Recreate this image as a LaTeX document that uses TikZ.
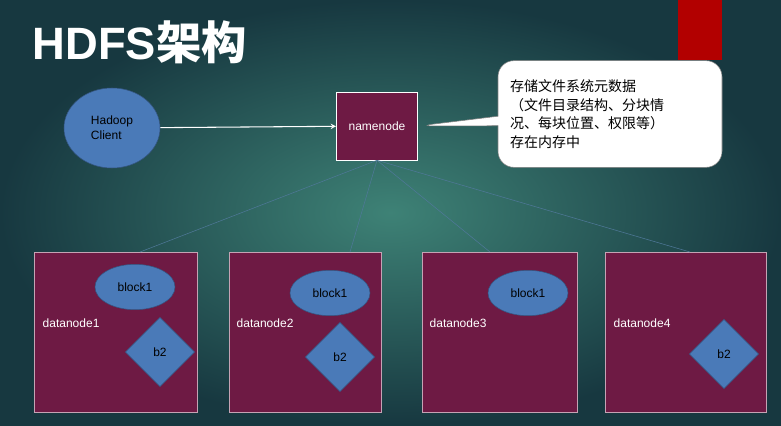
\documentclass[tikz,border=0pt]{standalone}
\usepackage{fontspec}
\setmainfont{Liberation Sans}
\newfontfamily\cjk{Noto Sans CJK SC}
\usetikzlibrary{shapes.geometric,shapes.callouts}
\definecolor{dnfill}{HTML}{6E1A44}
\definecolor{blue1}{HTML}{4A7AB8}
\definecolor{bgin}{HTML}{3E8276}
\definecolor{bgout}{HTML}{173840}
\definecolor{linkc}{HTML}{4F7898}
\tikzset{
  dnbox/.style={draw=white!60!dnfill,fill=dnfill,minimum width=#1,minimum height=120pt,inner sep=0},
  blk/.style={ellipse,draw=blue1!70!black,fill=blue1,minimum width=60pt,minimum height=34pt,font=\small},
  bt/.style={diamond,draw=blue1!70!black,fill=blue1,minimum width=52pt,minimum height=52pt,inner sep=0,font=\small},
  lbl/.style={text=white,font=\small,anchor=west}
}
\begin{document}
\begin{tikzpicture}[x=0.75pt,y=-0.75pt,>=stealth]
\shade[inner color=bgin,outer color=bgout] (0,0) rectangle (781,425);
\useasboundingbox (0,0) rectangle (781,425);
\fill[red!70!black] (678,0) rectangle (722,60);
\node[text=white,font=\bfseries\fontsize{34}{36}\selectfont,anchor=west] (title) at (28,42) {HDFS{\cjk 架构}};
% client and namenode
\node[ellipse,draw=blue1!70!black,fill=blue1,minimum width=72pt,minimum height=60pt,align=left,font=\small] (client) at (112,128) {Hadoop\\Client};
\node[draw=white,fill=dnfill,minimum width=61pt,minimum height=51pt,text=white,font=\small] (nn) at (377,126) {namenode};
\draw[->,white,thick] (client) -- (nn);
\node[rectangle callout,rounded corners=12pt,fill=white,draw=gray,minimum width=168pt,minimum height=80pt,
  callout absolute pointer={(nn.east)},text width=150pt,align=left,font=\cjk\fontsize{10.5}{14}\selectfont] (info) at (610,114)
  {存储文件系统元数据\\（文件目录结构、分块情\\况、每块位置、权限等）\\存在内存中};
% datanodes
\node[dnbox=122pt] (d1) at (116,332) {};
\node[dnbox=114pt] (d2) at (305,332) {};
\node[dnbox=116pt] (d3) at (500,332) {};
\node[dnbox=121pt] (d4) at (686,332) {};
\foreach \d/\x in {d1/140,d2/350,d3/490,d4/690}
  \draw[linkc] (nn.south) -- (\x,252);
\node[lbl] (l1) at (38,323) {datanode1};
\node[lbl] (l2) at (232,323) {datanode2};
\node[lbl] (l3) at (425,323) {datanode3};
\node[lbl] (l4) at (609,323) {datanode4};
\node[blk] (k1) at (135,287) {block1};
\node[blk] (k2) at (330,293) {block1};
\node[blk] (k3) at (528,293) {block1};
\node[bt] (b1) at (160,352) {b2};
\node[bt] (b2n) at (340,357) {b2};
\node[bt] (b4) at (724,354) {b2};
\end{tikzpicture}
\end{document}
